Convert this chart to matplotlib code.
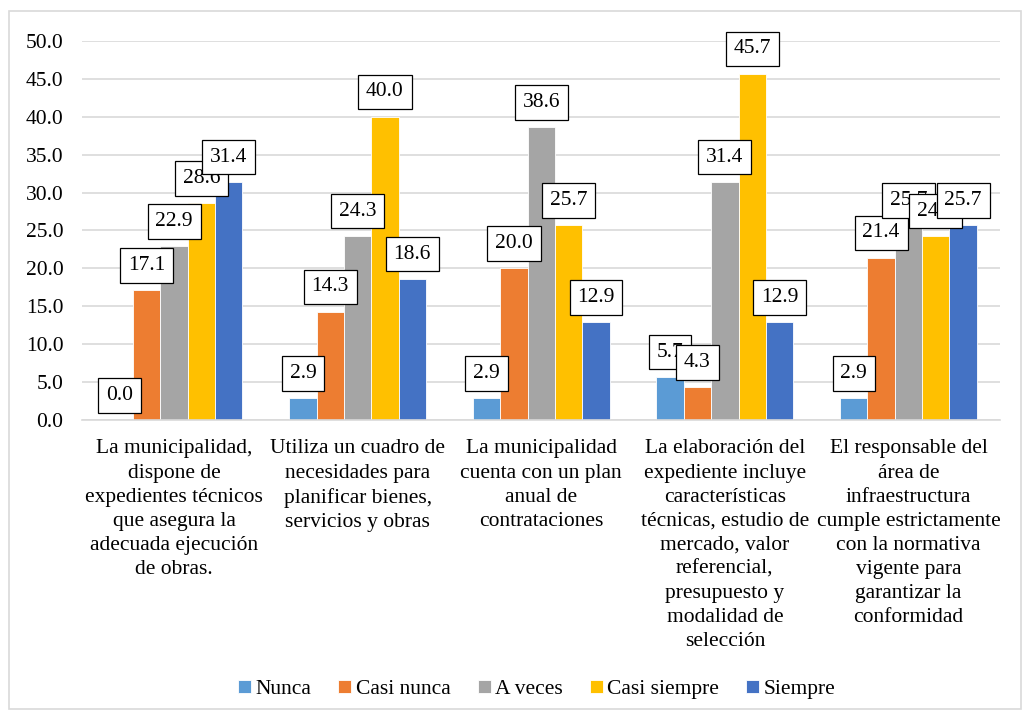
import numpy as np
import matplotlib.pyplot as plt
from matplotlib.patches import Rectangle

plt.rcParams['font.family'] = ['Liberation Serif', 'DejaVu Serif']

categorias = [
    "La municipalidad,\ndispone de\nexpedientes técnicos\nque asegura la\nadecuada ejecución\nde obras.",
    "Utiliza un cuadro de\nnecesidades para\nplanificar bienes,\nservicios y obras",
    "La municipalidad\ncuenta con un plan\nanual de\ncontrataciones",
    "La elaboración del\nexpediente incluye\ncaracterísticas\ntécnicas, estudio de\nmercado, valor\nreferencial,\npresupuesto y\nmodalidad de\nselección",
    "El responsable del\nárea de\ninfraestructura\ncumple estrictamente\ncon la normativa\nvigente para\ngarantizar la\nconformidad",
]
series = ["Nunca", "Casi nunca", "A veces", "Casi siempre", "Siempre"]
nunca = [0.0, 2.9, 2.9, 5.7, 2.9]
casi_nunca = [17.1, 14.3, 20.0, 4.3, 21.4]
a_veces = [22.9, 24.3, 38.6, 31.4, 25.7]
casi_siempre = [28.6, 40.0, 25.7, 45.7, 24.3]
siempre = [31.4, 18.6, 12.9, 12.9, 25.7]
colores = ["#5B9BD5", "#ED7D31", "#A5A5A5", "#FFC000", "#4472C4"]

valores = [nunca, casi_nunca, a_veces, casi_siempre, siempre]
fs = 15.5

fig = plt.figure(figsize=(10.28, 7.18), dpi=100)
ax = fig.add_axes([0.08, 0.415, 0.893, 0.528])

x = np.arange(len(categorias))
ancho = 0.149
for i, (nombre, vals, c) in enumerate(zip(series, valores, colores)):
    pos = x + (i - 2) * ancho
    ax.bar(pos, vals, ancho, color=c, label=nombre, edgecolor='white',
           linewidth=0.6, zorder=2)
for i, vals in enumerate(valores):
    pos = x + (i - 2) * ancho
    for xp, v in zip(pos, vals):
        ax.annotate(f"{v:.1f}", (xp, v), xytext=(0, 11), textcoords='offset points',
                    ha='center', va='bottom', fontsize=fs, zorder=5,
                    bbox=dict(boxstyle='square,pad=0.36', fc='white', ec='black', lw=0.9))

ax.set_ylim(0, 50)
ax.set_xlim(-0.5, len(categorias) - 0.5)
ax.set_yticks(np.arange(0, 50.1, 5))
ax.set_yticklabels([f"{t:.1f}" for t in np.arange(0, 50.1, 5)], fontsize=fs)
ax.set_xticks(x)
ax.set_xticklabels(categorias, fontsize=fs, linespacing=1.36, va='top')
ax.tick_params(length=0, pad=14)
ax.tick_params(axis='y', pad=13.5)
ax.grid(axis='y', color='#D9D9D9', linewidth=1.2, zorder=0)
for s in ['top', 'right', 'left']:
    ax.spines[s].set_visible(False)
ax.spines['bottom'].set_color('#D9D9D9')
ax.spines['bottom'].set_linewidth(1.2)

fig.legend(loc='center', bbox_to_anchor=(0.522, 0.04), ncol=5, frameon=False,
           fontsize=fs, handlelength=0.6, handleheight=0.6, handletextpad=0.2,
           columnspacing=1.27)

fig.patches.append(Rectangle((0.009, 0.012), 0.984, 0.972, transform=fig.transFigure,
                             fill=False, ec='#D9D9D9', lw=1.2))

fig.savefig("out.png", dpi=100)
